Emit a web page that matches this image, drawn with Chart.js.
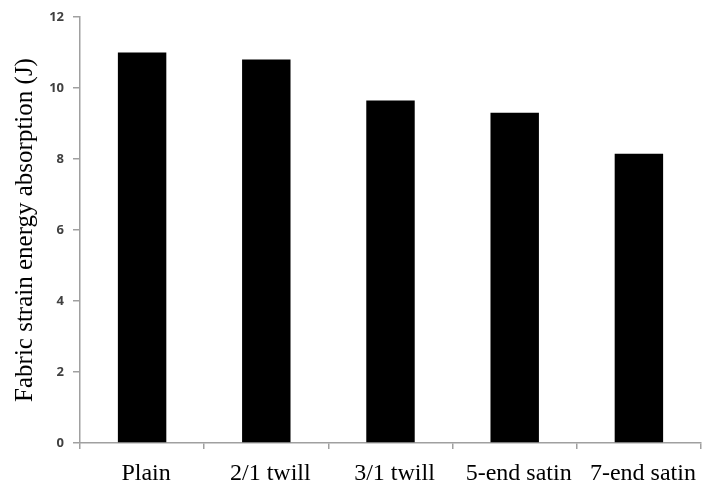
<!DOCTYPE html>
<html>
<head>
<meta charset="utf-8">
<script src="https://cdn.jsdelivr.net/npm/chart.js@4.4.0/dist/chart.umd.min.js"></script>
<style>
  html, body { margin: 0; padding: 0; background: #fff; }
  #wrap { width: 714px; height: 486px; }
</style>
</head>
<body>
<div id="wrap"><canvas id="barchart"></canvas></div>
<script>
// weave types and their energy absorption
const weaves = ['Plain', '2/1 twill', '3/1 twill', '5-end satin', '7-end satin'];
const energy = [11.0, 10.8, 9.65, 9.3, 8.15];
const yTicks = [0, 2, 4, 6, 8, 10, 12];

const ctx = document.getElementById('barchart').getContext('2d');
const axisGrey = '#a0a0a0';

var barchart = new Chart(ctx, {
    type: 'bar',
    data: {
        labels: weaves,
        datasets: [{
            label: 'Energy',
            data: energy,
            backgroundColor: '#000',
            borderWidth: 0,
            barPercentage: 0.39,
            categoryPercentage: 1
        }]
    },
    options: {
        responsive: true,
        maintainAspectRatio: false,
        animation: false,
        layout: { padding: { top: 17, right: 13, left: 0, bottom: 0 } },
        plugins: {
            legend: { display: false },
            tooltip: { enabled: false }
        },
        scales: {
            x: {
                afterFit: function (s) { s.height = 43; },
                grid: {
                    display: true,
                    drawOnChartArea: false,
                    offset: true,
                    color: axisGrey,
                    tickLength: 6,
                    lineWidth: 1.5
                },
                border: { display: true, color: axisGrey, width: 1.5 },
                ticks: {
                    color: '#000',
                    padding: 10,
                    labelOffset: 4,
                    font: { family: 'Liberation Serif', size: 24 }
                }
            },
            y: {
                min: 0,
                max: 12,
                afterFit: function (s) { s.width = 80; },
                afterBuildTicks: function (s) { s.ticks = yTicks.map(v => ({ value: v })); },
                grid: {
                    display: true,
                    drawOnChartArea: false,
                    color: axisGrey,
                    tickLength: 7,
                    lineWidth: 1.5
                },
                border: { display: true, color: axisGrey, width: 1.5 },
                ticks: {
                    color: '#404040',
                    padding: 9,
                    font: { family: 'Open Sans', size: 13, weight: 'bold' }
                },
                title: {
                    display: true,
                    text: 'Fabric strain energy absorption (J)',
                    color: '#000',
                    padding: { top: 10, bottom: 0 },
                    font: { family: 'Liberation Serif', size: 25 }
                }
            }
        }
    }
});
</script>
</body>
</html>
